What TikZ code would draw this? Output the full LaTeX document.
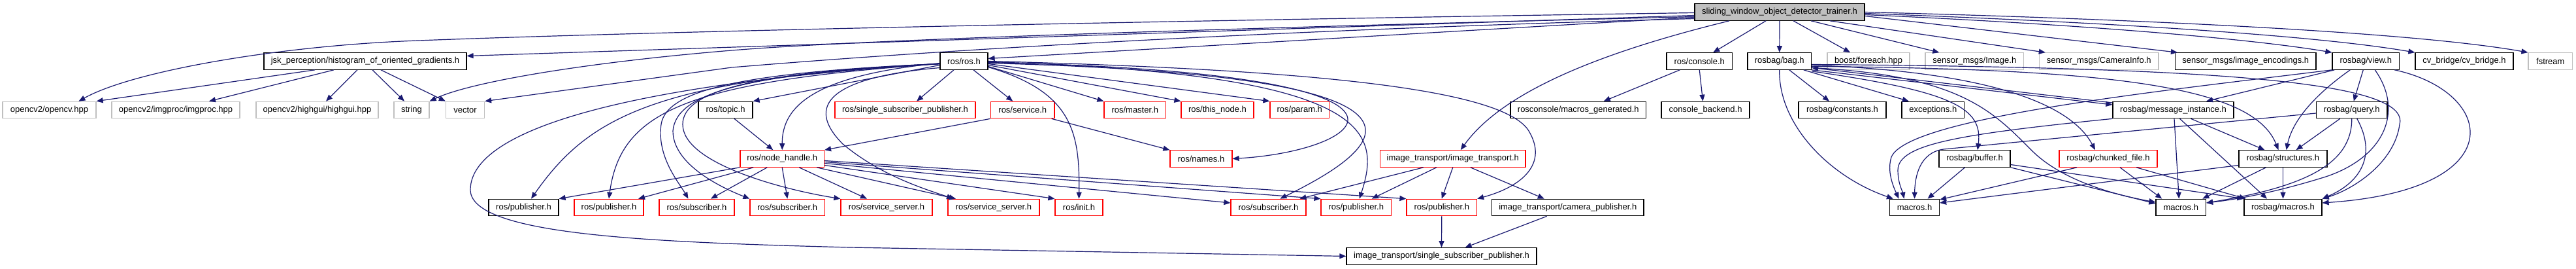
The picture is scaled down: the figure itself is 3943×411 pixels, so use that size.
\documentclass[tikz,border=0pt]{standalone}
\usepackage{fontspec}
\setmainfont{Liberation Sans}
\usetikzlibrary{arrows.meta,calc}
\newdimen\pxu \pxu=0.5pt
\definecolor{edgeblue}{HTML}{191970}
\definecolor{extgray}{HTML}{BFBFBF}
\definecolor{truncred}{HTML}{FF0000}
\newcommand\dnode[6]{\pgfmathsetmacro\ndx{(#2+#3)/2}\pgfmathsetmacro\ndw{(#3-#2)*0.5}\node[#5,minimum width=\ndw pt] (#1) at (\ndx,#4) {#6};}
\begin{document}
\begin{tikzpicture}[x=0.5pt,y=-0.5pt,
 base/.style={rectangle,inner sep=0pt,minimum height=12.75pt,font=\fontsize{6.5pt}{7pt}\selectfont,line width=0.6pt},
 root/.style={base,draw=black,fill=extgray},
 doc/.style={base,draw=black},
 ext/.style={base,draw=extgray},
 trunc/.style={base,draw=truncred},
 dep/.style={draw=edgeblue,line width=0.6pt,-{Triangle[length=5pt,width=4pt]}}]
\useasboundingbox (0,0) rectangle (3943,411);
% row 0
\dnode{S}{2594}{2854}{18.5}{root}{sliding\_window\_object\_detector\_trainer.h}
% row 1
\dnode{jsk}{404}{714}{93.5}{doc}{jsk\_perception/histogram\_of\_oriented\_gradients.h}
\dnode{ros}{1439}{1512}{93.5}{doc}{ros/ros.h}
\dnode{con}{2551}{2651.5}{93.5}{doc}{ros/console.h}
\dnode{bag}{2675}{2772.5}{93.5}{doc}{rosbag/bag.h}
\dnode{fe}{2797}{2923}{93.5}{ext}{boost/foreach.hpp}
\dnode{smi}{2947}{3097.5}{93.5}{ext}{sensor\_msgs/Image.h}
\dnode{smc}{3121.5}{3304}{93.5}{ext}{sensor\_msgs/CameraInfo.h}
\dnode{sme}{3329.5}{3545}{93.5}{doc}{sensor\_msgs/image\_encodings.h}
\dnode{view}{3570}{3672.5}{93.5}{doc}{rosbag/view.h}
\dnode{cvb}{3697}{3847}{93.5}{doc}{cv\_bridge/cv\_bridge.h}
\dnode{fst}{3870}{3937.5}{93.5}{ext}{fstream}
% row 2
\dnode{ocv}{4}{147}{168}{ext}{opencv2/opencv.hpp}
\dnode{imgp}{171}{367}{168}{ext}{opencv2/imgproc/imgproc.hpp}
\dnode{hg}{392}{579}{168}{ext}{opencv2/highgui/highgui.hpp}
\dnode{str}{603}{657}{168}{ext}{string}
\dnode{vec}{682.5}{741.5}{168}{ext}{vector}
\dnode{topic}{1069}{1152}{168}{doc}{ros/topic.h}
\dnode{rssp}{1278}{1493}{168}{trunc}{ros/single\_subscriber\_publisher.h}
\dnode{srv}{1516.5}{1614}{168}{trunc}{ros/service.h}
\dnode{mst}{1690}{1784.5}{168}{trunc}{ros/master.h}
\dnode{tn}{1808}{1919}{168}{trunc}{ros/this\_node.h}
\dnode{prm}{1944}{2034.5}{168}{trunc}{ros/param.h}
\dnode{mg}{2312}{2519.5}{168}{doc}{rosconsole/macros\_generated.h}
\dnode{cb}{2543}{2678}{168}{doc}{console\_backend.h}
\dnode{cst}{2753}{2887}{168}{doc}{rosbag/constants.h}
\dnode{exc}{2911}{3006.5}{168}{doc}{exceptions.h}
\dnode{mi}{3234}{3419}{168}{doc}{rosbag/message\_instance.h}
\dnode{qry}{3545.5}{3654}{168}{doc}{rosbag/query.h}
% row 3
\dnode{nh}{1133}{1261.5}{242.5}{trunc}{ros/node\_handle.h}
\dnode{nam}{1791}{1886}{242.5}{trunc}{ros/names.h}
\dnode{it}{2112.5}{2335}{242.5}{trunc}{image\_transport/image\_transport.h}
\dnode{buf}{2968}{3077}{242.5}{doc}{rosbag/buffer.h}
\dnode{chk}{3152}{3302}{242.5}{trunc}{rosbag/chunked\_file.h}
\dnode{stc}{3427}{3562}{242.5}{doc}{rosbag/structures.h}
% row 4
\dnode{pa}{748}{855}{317}{doc}{ros/publisher.h}
\dnode{pb}{879}{985}{317}{trunc}{ros/publisher.h}
\dnode{sa}{1009}{1124}{317}{trunc}{ros/subscriber.h}
\dnode{sb}{1148}{1262.5}{317}{trunc}{ros/subscriber.h}
\dnode{va}{1287}{1427}{317}{trunc}{ros/service\_server.h}
\dnode{vb}{1451}{1591}{317}{trunc}{ros/service\_server.h}
\dnode{ini}{1615}{1688}{317}{trunc}{ros/init.h}
\dnode{sc}{1884}{1999}{317}{trunc}{ros/subscriber.h}
\dnode{pc}{2022}{2129.5}{317}{trunc}{ros/publisher.h}
\dnode{pd}{2153}{2260.5}{317}{trunc}{ros/publisher.h}
\dnode{cp}{2283.5}{2516}{317}{doc}{image\_transport/camera\_publisher.h}
\dnode{ma}{2892.5}{2968.5}{317}{doc}{macros.h}
\dnode{mb}{3300}{3376.5}{317}{doc}{macros.h}
\dnode{rbm}{3435}{3554}{317}{doc}{rosbag/macros.h}
% row 5
\dnode{issp}{2061}{2352}{391.5}{doc}{image\_transport/single\_subscriber\_publisher.h}

% ---- edges from root
\draw[dep] ([xshift=-77\pxu]S.south) .. controls (2450,80) and (2300,140) .. ([xshift=12\pxu]it.north);
\draw[dep] ([xshift=-21\pxu]S.south) -- ([xshift=21\pxu]con.north);
\draw[dep] (S.south) -- (bag.north);
\draw[dep] ([xshift=21\pxu]S.south) -- ([xshift=-28\pxu]fe.north);
\draw[dep] ([xshift=48\pxu]S.south) -- ([xshift=-54\pxu]smi.north);
\draw[dep] ([xshift=77\pxu]S.south) -- ([xshift=-82\pxu]smc.north);
\draw[dep] ([yshift=-6\pxu]S.east) -- ([xshift=4\pxu]sme.north west);
\draw[dep] ([yshift=-4\pxu]S.east) .. controls (3200,38) and (3450,60) .. (view.north west);
\draw[dep] ([yshift=-2\pxu]S.east) .. controls (3250,35) and (3550,55) .. (cvb.north west);
\draw[dep] (S.east) .. controls (3300,30) and (3700,50) .. (fst.north west);
\draw[dep] ([yshift=-8\pxu]S.west) -- ([yshift=4\pxu]ros.east);
\draw[dep] ([yshift=-5\pxu]S.west) -- ([yshift=8\pxu]jsk.east);
\draw[dep] ([yshift=-1\pxu]S.west) .. controls (1500,36) and (900,52) .. (640,62) .. controls (420,70) and (200,110) .. ([xshift=45\pxu]ocv.north);
\draw[dep] ([yshift=-7\pxu]S.west) .. controls (1800,45) and (1300,62) .. (1120,77) .. controls (900,95) and (720,125) .. (str.north east);
\draw[dep] ([yshift=-10\pxu]S.west) .. controls (1800,50) and (1300,88) .. (1120,103) -- (vec.north east);
% ---- jsk
\draw[dep] ([xshift=-77\pxu]jsk.south) -- (ocv.north east);
\draw[dep] ([xshift=-48\pxu]jsk.south) -- ([xshift=51\pxu]imgp.north);
\draw[dep] ([xshift=-12\pxu]jsk.south) -- ([xshift=13.5\pxu]hg.north);
\draw[dep] ([xshift=11\pxu]jsk.south) -- ([xshift=-11\pxu]str.north);
\draw[dep] ([xshift=24\pxu]jsk.south) -- (vec.north west);
% ---- ros/ros.h
\draw[dep] ([yshift=-6\pxu]ros.west) -- (topic.north east);
\draw[dep] ([yshift=-3\pxu]ros.west) .. controls (1250,115) and (1197,160) .. (nh.north);
\draw[dep] ([xshift=-15.5\pxu]ros.south) -- ([xshift=17.5\pxu]rssp.north);
\draw[dep] ([xshift=14.5\pxu]ros.south) -- ([xshift=-15\pxu]srv.north);
\draw[dep] ([yshift=-9\pxu]ros.east) .. controls (1640,140) and (1653,200) .. (ini.north);
\draw[dep] ([yshift=-8\pxu]ros.east) -- (mst.north west);
\draw[dep] ([yshift=-6\pxu]ros.east) -- (tn.north west);
\draw[dep] ([yshift=-4\pxu]ros.east) -- (prm.north west);
\draw[dep] ([yshift=-2\pxu]ros.east) .. controls (2250,110) and (2100,230) .. (nam.east);
\draw[dep] ([yshift=-3\pxu]ros.east) .. controls (2250,115) and (2130,220) .. ([xshift=18\pxu]sc.north);
\draw[dep] ([yshift=-1\pxu]ros.east) .. controls (2100,112) and (2115,200) .. ([xshift=5\pxu]pc.north);
\draw[dep] (ros.east) .. controls (2000,106) and (2300,135) .. (2340,200) .. controls (2370,250) and (2330,285) .. (pd.north east);
\draw[dep] ([yshift=-4\pxu]ros.west) .. controls (1000,120) and (900,180) .. ([xshift=11.5\pxu]pa.north);
\draw[dep] ([yshift=-4\pxu]ros.west) .. controls (1050,125) and (950,170) .. (pb.north);
\draw[dep] ([yshift=-4\pxu]ros.west) .. controls (1150,110) and (1020,135) .. (1012,190) .. controls (1005,240) and (1040,280) .. ([xshift=-13\pxu]sa.north);
\draw[dep] ([yshift=-4\pxu]ros.west) .. controls (1150,112) and (1035,140) .. (1030,200) .. controls (1030,250) and (1100,285) .. (sb.north west);
\draw[dep] ([yshift=-4\pxu]ros.west) .. controls (1150,110) and (1045,140) .. (1045,190) .. controls (1045,250) and (1200,290) .. (va.north west);
\draw[dep] ([yshift=-10\pxu]ros.west) .. controls (1250,120) and (1240,170) .. (1290,220) .. controls (1350,270) and (1420,290) .. ([xshift=-62\pxu]vb.north);
\draw[dep] ([yshift=-4\pxu]ros.west) .. controls (1000,125) and (720,190) .. (720,290) .. controls (720,360) and (1000,370) .. (1300,378) -- (issp.west);
% ---- node_handle
\draw[dep] (nh.south west) -- (pa.north east);
\draw[dep] ([xshift=-44\pxu]nh.south) -- ([xshift=45\pxu]pb.north);
\draw[dep] ([xshift=-23\pxu]nh.south) -- ([xshift=21.5\pxu]sa.north);
\draw[dep] (nh.south) -- (sb.north);
\draw[dep] ([xshift=26\pxu]nh.south) -- ([xshift=-30\pxu]va.north);
\draw[dep] ([xshift=53\pxu]nh.south) -- ([xshift=-58\pxu]vb.north);
\draw[dep] ([yshift=-10\pxu]nh.east) -- (ini.north west);
\draw[dep] ([yshift=-7\pxu]nh.east) -- ([yshift=7\pxu]sc.west);
\draw[dep] ([yshift=-5\pxu]nh.east) -- (pc.north west);
\draw[dep] ([yshift=-3\pxu]nh.east) -- (pd.north west);
% ---- service, topic
\draw[dep] (srv.south west) -- (nh.north east);
\draw[dep] ([xshift=-5\pxu]srv.south east) -- (nam.north west);
\draw[dep] ([xshift=13.5\pxu]topic.south) -- ([xshift=-14\pxu]nh.north);
% ---- image_transport
\draw[dep] ([xshift=-45\pxu]it.south) -- ([xshift=48\pxu]sc.north);
\draw[dep] ([xshift=-25\pxu]it.south) -- ([xshift=24\pxu]pc.north);
\draw[dep] (it.south) -- (pd.north);
\draw[dep] ([xshift=27\pxu]it.south) -- ([xshift=-36\pxu]cp.north);
\draw[dep] (pd.south) -- (issp.north);
\draw[dep] ([xshift=-32\pxu]cp.south) -- ([xshift=36\pxu]issp.north);
% ---- console
\draw[dep] ([xshift=-30\pxu]con.south) -- ([xshift=39\pxu]mg.north);
\draw[dep] (con.south) -- ([xshift=-4\pxu]cb.north);
% ---- bag
\draw[dep] ([xshift=15\pxu]bag.south) -- ([xshift=-20\pxu]cst.north);
\draw[dep] ([xshift=37\pxu]bag.south) -- ([xshift=-37\pxu]exc.north);
\draw[dep] (bag.south) .. controls (2722,190) and (2800,270) .. ([xshift=6\pxu]ma.north west);
\draw[dep] ([yshift=-2\pxu]bag.south east) .. controls (2990,140) and (3035,165) .. ([xshift=4.5\pxu]buf.north);
\draw[dep] ([yshift=-6\pxu]bag.east) .. controls (3050,110) and (3170,160) .. ([xshift=-20\pxu]chk.north);
\draw[dep] (bag.south east) -- ([yshift=8\pxu]mi.west);
\draw[dep] ([yshift=11\pxu]mi.west) -- ([yshift=-10\pxu]bag.east);
\draw[dep] ([yshift=-8\pxu]bag.east) .. controls (3250,105) and (3450,135) .. ([xshift=-7\pxu]stc.north);
\draw[dep] ([yshift=-5\pxu]bag.east) .. controls (3400,103) and (3690,125) .. (3673,190) .. controls (3665,250) and (3600,290) .. (rbm.north east);
\draw[dep] ([yshift=-10\pxu]bag.east) .. controls (3000,115) and (3050,170) .. (3110,230) .. controls (3160,280) and (3250,300) .. ([yshift=8\pxu]mb.west);
% ---- buffer
\draw[dep] ([xshift=-15\pxu]buf.south) -- ([xshift=20\pxu]ma.north);
\draw[dep] (buf.south east) -- ([yshift=6\pxu]mb.west);
\draw[dep] ([yshift=-9\pxu]buf.east) -- (rbm.north west);
% ---- chunked
\draw[dep] ([xshift=-48\pxu]chk.south) -- ([yshift=12\pxu]ma.east);
\draw[dep] ([xshift=18\pxu]chk.south) -- ([xshift=-29\pxu]mb.north);
\draw[dep] ([xshift=43\pxu]chk.south) -- ([xshift=3\pxu]rbm.north west);
% ---- message_instance
\draw[dep] (mi.south west) .. controls (3000,205) and (2905,220) .. (2905,260) .. controls (2905,280) and (2912,292) .. ([xshift=-16\pxu]ma.north);
\draw[dep] ([xshift=1.5\pxu]mi.south) -- ([xshift=-3\pxu]mb.north);
\draw[dep] ([xshift=10\pxu]mi.south) -- ([xshift=-24.5\pxu]rbm.north);
\draw[dep] ([xshift=27\pxu]mi.south) -- ([xshift=-28\pxu]stc.north);
% ---- structures
\draw[dep] ([yshift=-10\pxu]stc.west) -- ([yshift=7\pxu]ma.east);
\draw[dep] ([xshift=-26\pxu]stc.south) -- ([xshift=33\pxu]mb.north);
\draw[dep] (stc.south) -- (rbm.north);
% ---- query
\draw[dep] ([yshift=-5\pxu]qry.west) -- (2975,228) .. controls (2938,233) and (2931,270) .. (ma.north);
\draw[dep] ([xshift=-18\pxu]qry.south) -- ([xshift=20\pxu]stc.north);
\draw[dep] (qry.south) .. controls (3600,250) and (3530,285) .. ([yshift=7\pxu]mb.east);
\draw[dep] ([xshift=8\pxu]qry.south) .. controls (3640,240) and (3610,280) .. (rbm.north east);
% ---- view
\draw[dep] (view.south west) .. controls (3300,140) and (2920,180) .. (2895,240) .. controls (2888,262) and (2898,285) .. ([xshift=-24\pxu]ma.north);
\draw[dep] ([xshift=-48\pxu]view.south) -- ([xshift=50.5\pxu]mi.north);
\draw[dep] ([xshift=-24\pxu]view.south) .. controls (3550,140) and (3510,180) .. ([xshift=5\pxu]stc.north);
\draw[dep] ([xshift=-4\pxu]view.south) -- ([xshift=3\pxu]qry.north);
\draw[dep] ([xshift=14\pxu]view.south) .. controls (3680,170) and (3650,240) .. (3560,270) .. controls (3480,295) and (3420,305) .. ([yshift=7\pxu]mb.east);
\draw[dep] ([xshift=44\pxu]view.south) .. controls (3820,140) and (3850,290) .. ([yshift=7\pxu]rbm.east);
\end{tikzpicture}
\end{document}
